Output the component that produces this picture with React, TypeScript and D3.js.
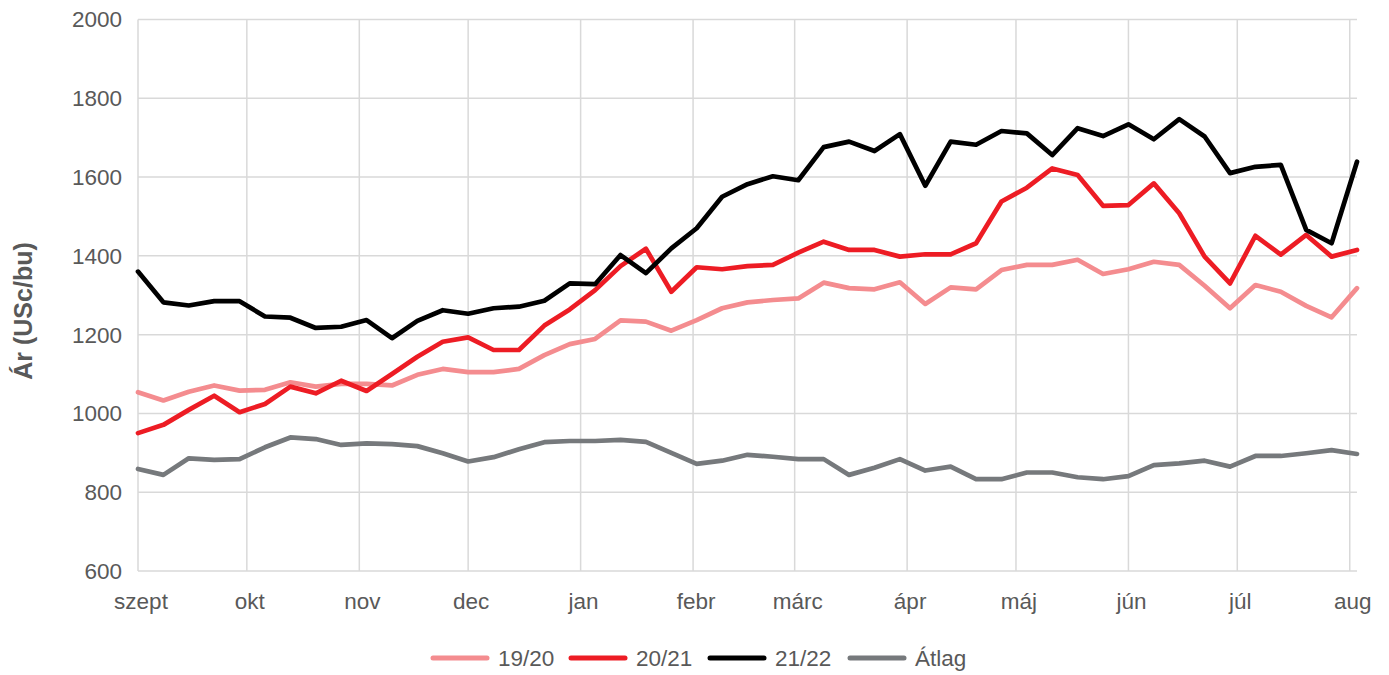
import React from "react";
import * as d3 from "d3";

// weekly prices, USc/bu, starting 1 Sept
const months = ["szept", "okt", "nov", "dec", "jan", "febr", "márc", "ápr", "máj", "jún", "júl", "aug"];
const yTicks = [600, 800, 1000, 1200, 1400, 1600, 1800, 2000];

const s1920 = [1054, 1033, 1055, 1071, 1058, 1060, 1079, 1068, 1075, 1075, 1071, 1098, 1113, 1105, 1105, 1113,
  1148, 1176, 1189, 1236, 1233, 1210, 1237, 1267, 1282, 1288, 1292, 1332, 1318, 1315, 1333, 1278, 1320, 1315,
  1364, 1377, 1377, 1390, 1354, 1366, 1385, 1377, 1324, 1267, 1326, 1309, 1273, 1244, 1318];
const s2021 = [950, 971, 1009, 1045, 1003, 1024, 1068, 1051, 1083, 1057, 1100, 1144, 1182, 1193, 1161, 1161,
  1223, 1264, 1313, 1374, 1418, 1309, 1371, 1366, 1374, 1377, 1408, 1436, 1415, 1415, 1398, 1404, 1404, 1432,
  1538, 1573, 1622, 1605, 1527, 1529, 1584, 1508, 1398, 1330, 1451, 1403, 1453, 1398, 1415];
const s2122 = [1360, 1282, 1274, 1285, 1285, 1246, 1243, 1217, 1220, 1237, 1191, 1235, 1262, 1253, 1267, 1271,
  1286, 1330, 1328, 1402, 1356, 1419, 1470, 1550, 1582, 1602, 1592, 1676, 1690, 1666, 1709, 1578, 1690, 1682,
  1717, 1711, 1656, 1724, 1704, 1734, 1696, 1747, 1703, 1610, 1626, 1631, 1466, 1432, 1639];
const atlag = [859, 844, 886, 882, 884, 914, 939, 935, 920, 924, 922, 917, 899, 878, 889, 909, 927, 930, 930,
  933, 928, 900, 872, 880, 895, 890, 884, 884, 844, 862, 884, 855, 865, 833, 833, 850, 850, 838, 833, 841, 869,
  873, 880, 865, 892, 892, 899, 907, 897];

const seriesNames = ["19/20", "20/21", "21/22", "Átlag"];
const seriesData = [s1920, s2021, s2122, atlag];
const seriesColors = ["#F48C8F", "#ED1C24", "#000000", "#76797C"];

const initial = {
  width: 1389,
  height: 675,
  left: 138,
  right: 1357,
  top: 19.5,
  bottom: 571,
  fontSize: 22.5,
  titleSize: 25,
  textColor: "#595959",
  gridColor: "#D9D9D9",
  legendY: 658,
  legendX: [433, 571, 710, 850],
  legendLine: 54,
};

const startDate = new Date(2021, 8, 1);
const weeks = s2122.map((_, i) => d3.timeDay.offset(startDate, 7 * i));

const App = () => {
  const xScale = d3
    .scaleTime()
    .domain([weeks[0], weeks[weeks.length - 1]])
    .range([initial.left, initial.right]);

  const yScale = d3
    .scaleLinear()
    .domain([600, 2000])
    .range([initial.bottom, initial.top]);

  const monthTicks = d3.timeMonth.range(weeks[0], weeks[weeks.length - 1]);

  const line = d3
    .line<number>()
    .x((d, i) => xScale(weeks[i]))
    .y((d) => yScale(d));

  const font = "'Liberation Sans', Arial, sans-serif";

  return (
    <svg
      width={initial.width}
      height={initial.height}
      style={{ position: "absolute", left: 0, top: 0, background: "#fff" }}
      fontFamily={font}
    >
      {/* grid */}
      <g>
        {yTicks.map((t) => (
          <line
            key={"h" + t}
            x1={initial.left}
            x2={initial.right}
            y1={yScale(t)}
            y2={yScale(t)}
            stroke={initial.gridColor}
            strokeWidth={1.5}
          />
        ))}
        {monthTicks.map((m, i) => (
          <line
            key={"v" + i}
            x1={xScale(m)}
            x2={xScale(m)}
            y1={initial.top}
            y2={initial.bottom}
            stroke={initial.gridColor}
            strokeWidth={1.5}
          />
        ))}
      </g>

      {/* axis labels */}
      <g fill={initial.textColor} fontSize={initial.fontSize}>
        {yTicks.map((t) => (
          <text key={"yt" + t} x={122} y={yScale(t)} dy="0.35em" textAnchor="end">
            {t}
          </text>
        ))}
        {monthTicks.map((m, i) => (
          <text key={"xt" + i} x={xScale(m) + 3} y={609} textAnchor="middle">
            {months[i]}
          </text>
        ))}
        <text
          transform={`translate(32, 311) rotate(-90)`}
          textAnchor="middle"
          fontWeight="bold"
          fontSize={initial.titleSize}
        >
          Ár (USc/bu)
        </text>
      </g>

      {/* series */}
      <g fill="none" strokeWidth={4.7} strokeLinejoin="round" strokeLinecap="round">
        {seriesData.map((s, i) => (
          <path key={seriesNames[i]} d={line(s) || ""} stroke={seriesColors[i]} />
        ))}
      </g>

      {/* legend */}
      <g fontSize={initial.fontSize} fill={initial.textColor}>
        {seriesNames.map((n, i) => (
          <g key={"lg" + n}>
            <line
              x1={initial.legendX[i]}
              x2={initial.legendX[i] + initial.legendLine}
              y1={initial.legendY}
              y2={initial.legendY}
              stroke={seriesColors[i]}
              strokeWidth={5}
              strokeLinecap="round"
            />
            <text x={initial.legendX[i] + initial.legendLine + 11} y={initial.legendY} dy="0.35em">
              {n}
            </text>
          </g>
        ))}
      </g>
    </svg>
  );
};

export default App;
